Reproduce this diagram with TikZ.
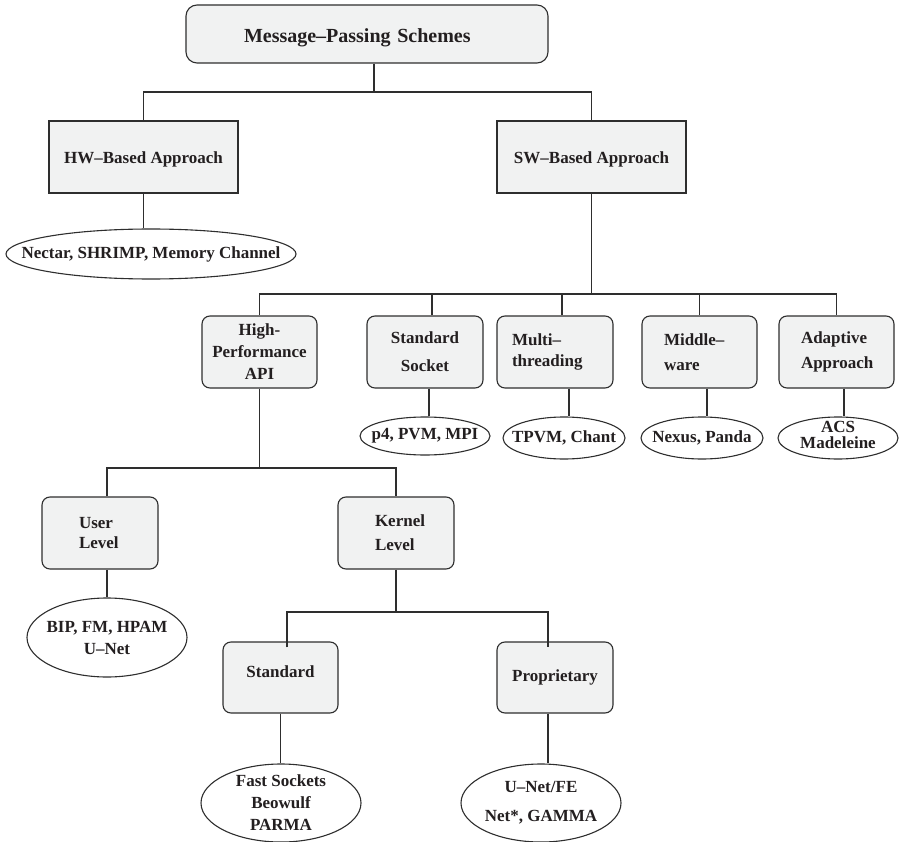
\documentclass[tikz,border=0pt]{standalone}
\usepackage{fontspec}
\setmainfont{Liberation Serif}
\usetikzlibrary{shapes.geometric}
\definecolor{boxfill}{HTML}{F1F2F2}
\definecolor{linec}{HTML}{2E2E2E}
\definecolor{txtc}{HTML}{231F20}
\newcommand{\lblfont}{\bfseries\fontsize{17}{22}\selectfont}
\newcommand{\ttlfont}{\bfseries\fontsize{20}{24}\selectfont}

\begin{document}
\begin{tikzpicture}[x=1pt,y=-1pt,
  every node/.style={font=\lblfont, text=txtc},
  box/.style={draw=linec, fill=boxfill, line width=1.1pt, minimum height=72pt,
              inner ysep=0pt, align=center},
  rbox/.style={box, rounded corners=8pt},
  oval/.style={ellipse, draw=linec, line width=1.1pt, inner sep=0pt, fill=white},
  link/.style={draw=linec, line width=1.1pt},
]
\useasboundingbox (0,0) rectangle (902,842);

% ---------- boxes ----------
\node[rbox, rounded corners=11pt, minimum width=362pt, minimum height=58pt,
      text width=246pt, inner xsep=58pt, align=left, font=\ttlfont,
      text height=18pt, text depth=0pt]
      (top) at (367,34) {Message–Passing Schemes};

\node[box, minimum width=189pt, text height=14pt, text depth=0pt] (hw) at (143.5,157) {HW–Based Approach};
\node[box, minimum width=189pt, text height=14pt, text depth=0pt] (sw) at (591.5,157) {SW–Based Approach};

\node[rbox, minimum width=115pt] (hp) at (259.5,352) {High-\\Performance\\API};
\node[rbox, minimum width=116pt] (sock) at (425,352) {Standard\\[6pt]Socket};
\node[rbox, text width=86pt, inner xsep=15pt, align=left] (multi) at (555,352)
      {Multi–\\[-1pt]threading};
\node[rbox, text width=71pt, inner xsep=22pt, align=left] (midw) at (699.5,352)
      {Middle–\\[3pt]ware};
\node[rbox, text width=71pt, inner xsep=22pt, align=left] (adapt) at (836.5,352)
      {Adaptive\\[3pt]Approach};

\node[rbox, text width=42pt, inner xsep=37pt, align=left] (user) at (100,533)
      {User\\[-2pt]Level};
\node[rbox, text width=42pt, inner xsep=37pt, align=left] (kernel) at (396,533)
      {Kernel\\[2pt]Level};

\node[rbox, minimum width=115pt, minimum height=71pt, text depth=11pt] (std) at (280.5,677.5) {Standard};
\node[rbox, minimum width=116pt, minimum height=71pt] (prop) at (555,677.5) {Proprietary};

% ---------- ovals ----------
\node[oval, minimum width=290pt, minimum height=50pt,
      label={center:Nectar, SHRIMP, Memory Channel}] (hwex) at (151,254) {};
\node[oval, minimum width=130pt, minimum height=38pt,
      label={center:p4, PVM, MPI}] (sockex) at (425,436) {};
\node[oval, minimum width=122pt, minimum height=42pt,
      label={center:TPVM, Chant}] (multiex) at (564,438) {};
\node[oval, minimum width=122pt, minimum height=42pt,
      label={center:Nexus, Panda}] (midwex) at (702,438) {};
\node[oval, minimum width=120pt, minimum height=42pt,
      label={[align=center, yshift=3pt]center:ACS\\[-6pt]Madeleine}] (adaptex) at (838,438) {};
\node[oval, minimum width=160pt, minimum height=79pt,
      label={[align=center]center:BIP, FM, HPAM\\U–Net}] (userex) at (107,637.5) {};
\node[oval, minimum width=160pt, minimum height=78pt,
      label={[align=center]center:Fast Sockets\\Beowulf\\PARMA}] (stdex) at (281,803) {};
\node[oval, minimum width=160pt, minimum height=78pt,
      label={[align=center]center:U–Net/FE\\[7pt]Net*, GAMMA}] (propex) at (541,803) {};

% ---------- connectors ----------
% root to the two approaches
\coordinate (j1) at (374,92);
\draw[link] (top.south -| j1) -- (j1);
\draw[link] (hw.north) |- (j1) -| (sw.north);
\draw[link] (hw.south) -- (hw.south |- hwex.north);

% software-based branch
\coordinate (j2) at (591.5,294);
\draw[link] (sw.south) -- (j2);
\draw[link] (hp.north) |- (j2) -| (adapt.north);
\coordinate (sockin) at ([xshift=7pt]sock.north);
\coordinate (multiin) at ([xshift=7pt]multi.north);
\draw[link] (sockin) -- (sockin |- j2);
\draw[link] (multiin) -- (multiin |- j2);
\draw[link] (midw.north) -- (midw.north |- j2);

% leaves of the software-based branch
\coordinate (sockout) at ([xshift=4pt]sock.south);
\coordinate (multiout) at ([xshift=14pt]multi.south);
\coordinate (midwout) at ([xshift=7.5pt]midw.south);
\coordinate (adaptout) at ([xshift=7.5pt]adapt.south);
\draw[link] (sockout) -- (sockout |- sockex.north);
\draw[link] (multiout) -- (multiout |- multiex.north);
\draw[link] (midwout) -- (midwout |- midwex.north);
\draw[link] (adaptout) -- (adaptout |- adaptex.north);

% high-performance API branch
\coordinate (j3) at (259.5,468);
\draw[link] (hp.south) -- (j3);
\coordinate (userin) at ([xshift=7pt]user.north);
\draw[link] (userin) |- (j3) -| (kernel.north);
\coordinate (userout) at ([xshift=7pt]user.south);
\draw[link] (userout) -- (userout |- userex.north);

% kernel-level branch
\coordinate (j4) at (396,612);
\draw[link] (kernel.south) -- (j4);
\coordinate (stdin) at ([xshift=6.5pt,yshift=-6pt]std.north);
\coordinate (propin) at ([xshift=-7pt,yshift=-6pt]prop.north);
\draw[link] (stdin) |- (j4) -| (propin);
\draw[link] (std.south) -- (std.south |- stdex.north);
\coordinate (propout) at ([xshift=-7pt]prop.south);
\draw[link] (propout) -- (propout |- propex.north);
\end{tikzpicture}
\end{document}
